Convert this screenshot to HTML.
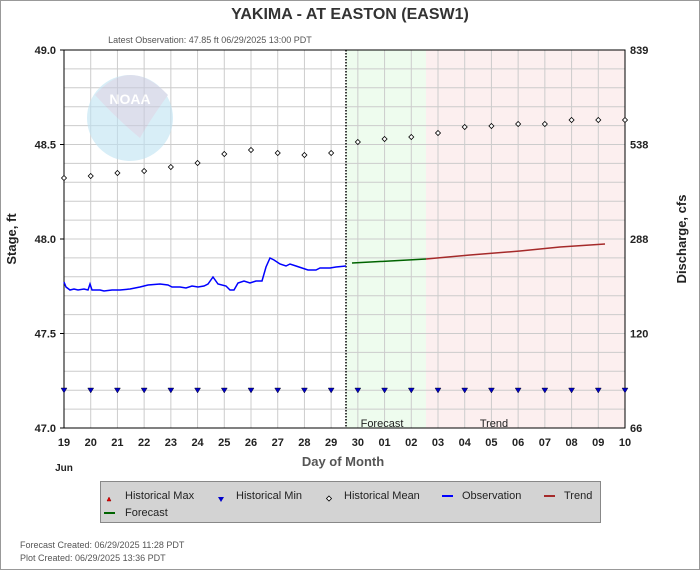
<!DOCTYPE html>
<html><head><style>
body{margin:0;background:#fff}
svg{display:block}
text{font-family:"Liberation Sans",Arial,sans-serif}
</style></head><body>
<svg id="s" width="700" height="570" xmlns="http://www.w3.org/2000/svg">
<rect x="0.5" y="0.5" width="699" height="569" fill="#fff" stroke="#999"/>
<text x="350" y="19" font-size="16" font-weight="bold" text-anchor="middle" fill="#333">YAKIMA - AT EASTON  (EASW1)</text>
<text x="210" y="43" font-size="9" text-anchor="middle" fill="#555">Latest Observation: 47.85 ft 06/29/2025 13:00 PDT</text>
<rect x="346" y="50" width="80" height="378" fill="#eefcee"/>
<rect x="426" y="50" width="199" height="378" fill="#fcefef"/>
<g id="grid" stroke="#ccc" stroke-width="1"></g>
<g opacity="0.6">
<circle cx="130" cy="118" r="43" fill="#bfe3f3"/>
<path d="M95 95 Q130 55 168 95 Q150 120 140 138 Q118 120 95 95Z" fill="#c8cbe0"/>
<text x="130" y="104" font-size="14" font-weight="bold" fill="#fff" text-anchor="middle">NOAA</text>
</g>
<line x1="346" y1="50" x2="346" y2="428" stroke="#000" stroke-dasharray="1.5,1.5" stroke-width="1.5"/>
<rect x="64" y="50" width="561" height="378" fill="none" stroke="#000"/>
<g id="ticks" font-size="11" font-weight="bold" fill="#222"></g>
<text x="382" y="427" font-size="11" text-anchor="middle" fill="#222">Forecast</text>
<text x="494" y="427" font-size="11" text-anchor="middle" fill="#222">Trend</text>
<text x="343" y="466" font-size="13" font-weight="bold" text-anchor="middle" fill="#555">Day of Month</text>
<text x="64" y="471" font-size="10" font-weight="bold" text-anchor="middle" fill="#222">Jun</text>
<text x="16" y="239" font-size="13" font-weight="bold" text-anchor="middle" fill="#222" transform="rotate(-90 16 239)">Stage, ft</text>
<text x="686" y="239" font-size="13" font-weight="bold" text-anchor="middle" fill="#222" transform="rotate(-90 686 239)">Discharge, cfs</text>
<polyline fill="none" stroke="#0000ff" stroke-width="1.5" points="64,282 66,287 70,290 74,289 78,290 84,289 88,290 90,284 92,290 100,290 104,291 112,290 120,290 130,289 140,287 148,285 160,284 168,285 172,287 180,287 186,288 192,286 198,287 204,286 208,284 213,277 218,284 226,286 230,290 234,290 238,283 244,281 250,283 256,281 262,281 266,267 270,258 274,260 280,264 286,266 290,264 296,266 302,268 308,270 316,270 320,268 330,268 336,267 346,266"/>
<polyline fill="none" stroke="#006400" stroke-width="1.5" points="352,263 390,261 426,259"/>
<polyline fill="none" stroke="#a52a2a" stroke-width="1.5" points="426,259 470,255 520,251 560,247 605,244"/>
<g id="pts"></g>
<rect x="100.5" y="481.5" width="500" height="41" fill="#d3d3d3" stroke="#888"/>
<g font-size="11" fill="#222" font-family="DejaVu Sans">
<polygon points="107,501 111,501 109,497" fill="#e00" stroke="#800" stroke-width="0.5"/>
<text x="125" y="499" font-family="DejaVu Sans,sans-serif">Historical Max</text>
<polygon points="218,497 224,497 221,502" fill="#00c"/>
<text x="236" y="499" font-family="DejaVu Sans,sans-serif">Historical Min</text>
<polygon points="329,496 331.5,498.5 329,501 326.5,498.5" fill="#fff" stroke="#000" stroke-width="0.8"/>
<text x="344" y="499" font-family="DejaVu Sans,sans-serif">Historical Mean</text>
<line x1="442" y1="496" x2="453" y2="496" stroke="#00f" stroke-width="2"/>
<text x="462" y="499" font-family="DejaVu Sans,sans-serif">Observation</text>
<line x1="544" y1="496" x2="555" y2="496" stroke="#a52a2a" stroke-width="2"/>
<text x="564" y="499" font-family="DejaVu Sans,sans-serif">Trend</text>
<line x1="104" y1="513" x2="115" y2="513" stroke="#006400" stroke-width="2"/>
<text x="125" y="516" font-family="DejaVu Sans,sans-serif">Forecast</text>
</g>
<text x="20" y="548" font-size="9" fill="#555">Forecast Created: 06/29/2025 11:28 PDT</text>
<text x="20" y="561" font-size="9" fill="#555">Plot Created: 06/29/2025 13:36 PDT</text>
</svg>
<script>
var NS="http://www.w3.org/2000/svg";
function el(p,t,a,txt){var e=document.createElementNS(NS,t);for(var k in a)e.setAttribute(k,a[k]);if(txt)e.textContent=txt;document.getElementById(p).appendChild(e);return e;}
var dx=561/21;
var days=["19","20","21","22","23","24","25","26","27","28","29","30","01","02","03","04","05","06","07","08","09","10"];
for(var i=1;i<21;i++){var x=64+i*dx;el("grid","line",{x1:x,y1:50,x2:x,y2:428});}
for(var j=1;j<20;j++){var y=50+j*18.9;el("grid","line",{x1:64,y1:y,x2:625,y2:y});}
for(var i=0;i<22;i++){var x=64+i*dx;el("ticks","text",{x:x,y:446,"text-anchor":"middle"},days[i]);}
var L=[["49.0",50],["48.5",144.5],["48.0",239],["47.5",333.5],["47.0",428]];
L.forEach(function(l){el("ticks","text",{x:56,y:l[1]+4,"text-anchor":"end"},l[0]);el("ticks","line",{x1:60,y1:l[1],x2:64,y2:l[1],stroke:"#000"});});
var R=[["839",50],["538",144.5],["288",239],["120",333.5],["66",428]];
R.forEach(function(l){el("ticks","text",{x:630,y:l[1]+4},l[0]);});
var mean=[178,176,173,171,167,163,154,150,153,155,153,142,139,137,133,127,126,124,124,120,120,120];
for(var i=0;i<22;i++){var x=64+i*dx,y=mean[i];
el("pts","polygon",{points:(x)+","+(y-2.5)+" "+(x+2.5)+","+y+" "+x+","+(y+2.5)+" "+(x-2.5)+","+y,fill:"#fff",stroke:"#000","stroke-width":"0.8"});
el("pts","polygon",{points:(x-3)+",388 "+(x+3)+",388 "+x+",393",fill:"#0000c8",stroke:"#000","stroke-width":"0.4"});}
</script>
</body></html>
